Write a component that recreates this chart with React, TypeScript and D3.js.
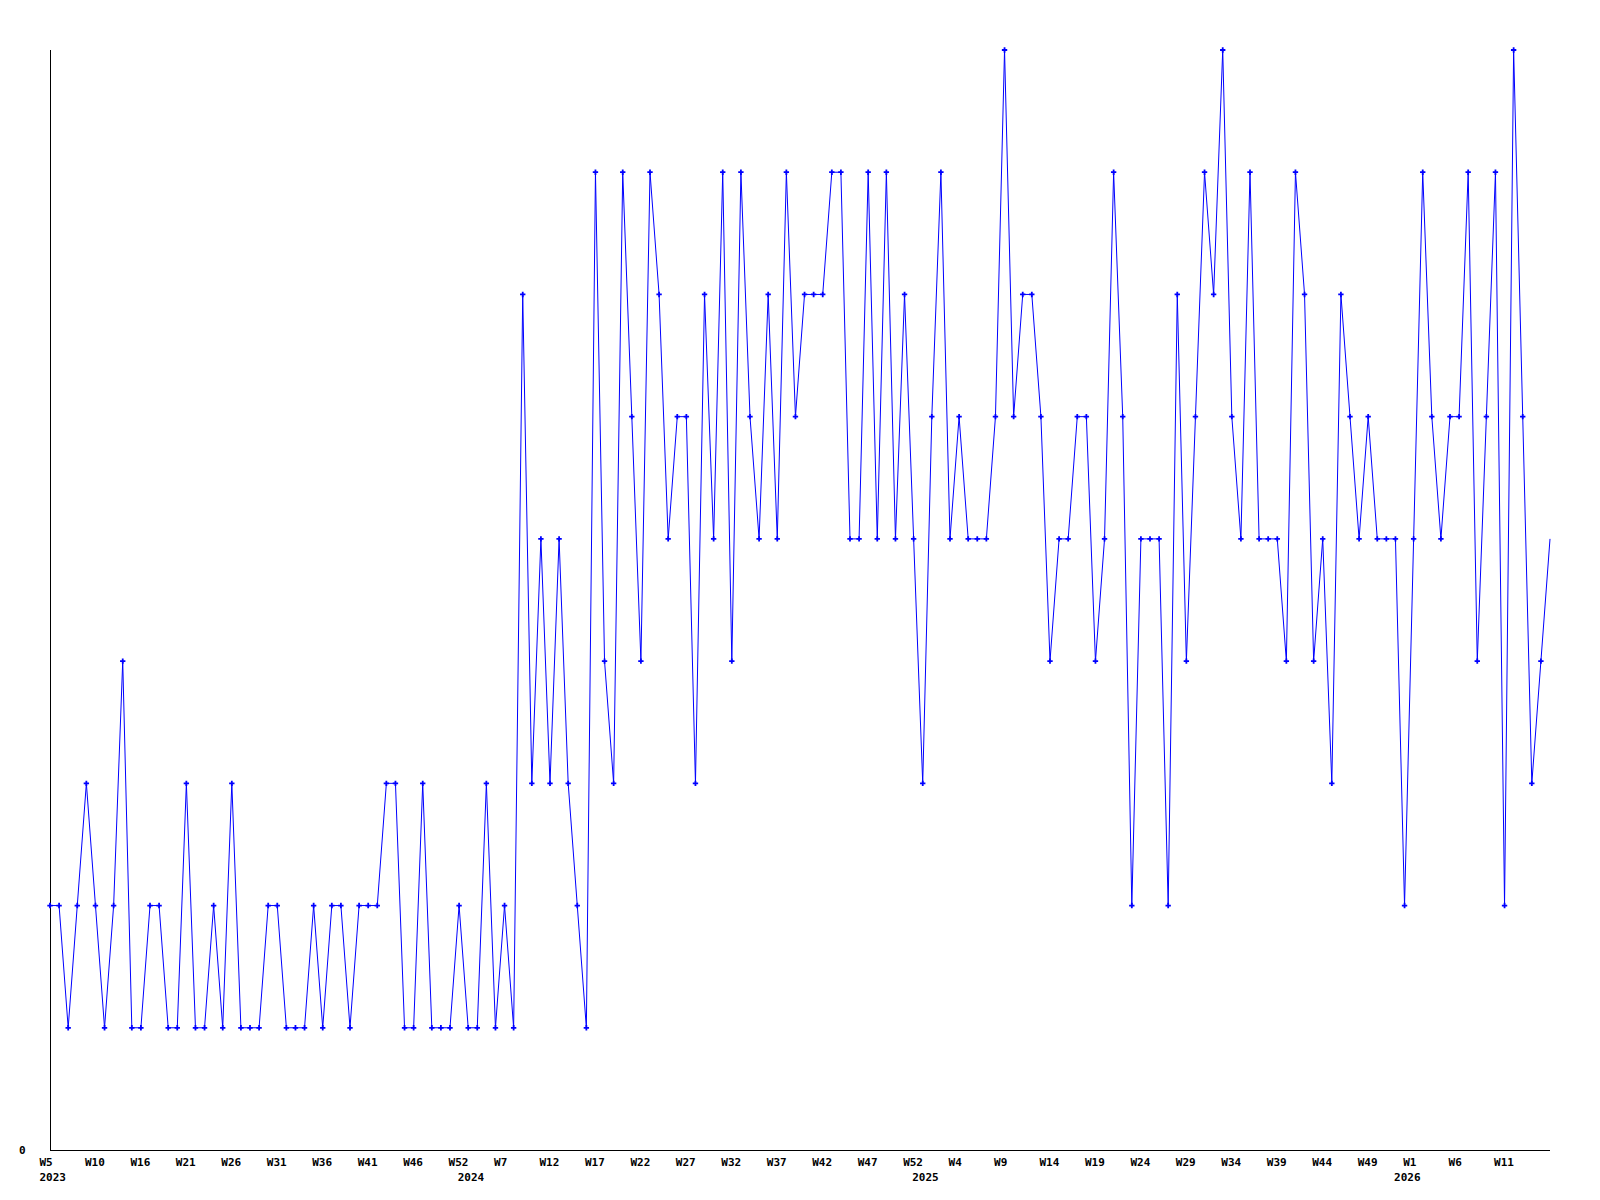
import React, { useEffect, useRef } from 'react';
import { select, scaleLinear, line, symbol, symbolCross } from 'd3';

// one value per plotted week
const values = [
  2, 2, 1, 2, 3, 2, 1, 2, 4, 1, 1, 2, 2, 1, 1, 3, 1, 1, 2, 1,
  3, 1, 1, 1, 2, 2, 1, 1, 1, 2, 1, 2, 2, 1, 2, 2, 2, 3, 3, 1,
  1, 3, 1, 1, 1, 2, 1, 1, 3, 1, 2, 1, 7, 3, 5, 3, 5, 3, 2, 1,
  8, 4, 3, 8, 6, 4, 8, 7, 5, 6, 6, 3, 7, 5, 8, 4, 8, 6, 5, 7,
  5, 8, 6, 7, 7, 7, 8, 8, 5, 5, 8, 5, 8, 5, 7, 5, 3, 6, 8, 5,
  6, 5, 5, 5, 6, 9, 6, 7, 7, 6, 4, 5, 5, 6, 6, 4, 5, 8, 6, 2,
  5, 5, 5, 2, 7, 4, 6, 8, 7, 9, 6, 5, 8, 5, 5, 5, 4, 8, 7, 4,
  5, 3, 7, 6, 5, 6, 5, 5, 5, 2, 5, 8, 6, 5, 6, 6, 8, 4, 6, 8,
  2, 9, 6, 3, 4, 5,
];

// a week label sits under every 5th point
const weekLabels = [
  'W5', 'W10', 'W16', 'W21', 'W26', 'W31', 'W36', 'W41', 'W46', 'W52', 'W7',
  'W12', 'W17', 'W22', 'W27', 'W32', 'W37', 'W42', 'W47', 'W52', 'W4', 'W9',
  'W14', 'W19', 'W24', 'W29', 'W34', 'W39', 'W44', 'W49', 'W1', 'W6', 'W11',
];
const weekStep = 5;

const years = ['2023', '2024', '2025', '2026'];
const yearStarts = [0, 46, 96, 149];

const yMax = 9;

const App = () => {
  const svgRef = useRef(null);

  useEffect(() => {
    const svg = select(svgRef.current);
    svg.selectAll('*').remove();

    const xScale = scaleLinear().domain([0, values.length - 1]).range([50, 1550]);
    const yScale = scaleLinear().domain([0, yMax]).range([1150, 50]);

    const font = { family: 'DejaVu Sans Mono', size: 11 };

    // axes
    svg.append('line')
      .attr('x1', xScale(0)).attr('x2', xScale(0))
      .attr('y1', yScale(yMax)).attr('y2', yScale(0))
      .attr('stroke', '#000').attr('shape-rendering', 'crispEdges');
    svg.append('line')
      .attr('x1', xScale(0)).attr('x2', xScale(values.length - 1))
      .attr('y1', yScale(0)).attr('y2', yScale(0))
      .attr('stroke', '#000').attr('shape-rendering', 'crispEdges');

    svg.append('text')
      .attr('x', xScale(0) - 24.5)
      .attr('y', yScale(0) + 3.5)
      .attr('text-anchor', 'end')
      .attr('font-family', font.family)
      .attr('font-size', font.size)
      .attr('font-weight', 'bold')
      .text('0');

    svg.selectAll('.week')
      .data(weekLabels)
      .join('text')
      .attr('class', 'week')
      .attr('x', (d, i) => xScale(i * weekStep) - 10.5)
      .attr('y', yScale(0) + 16)
      .attr('font-family', font.family)
      .attr('font-size', font.size)
      .attr('font-weight', 'bold')
      .text((d) => d);

    svg.selectAll('.year')
      .data(years)
      .join('text')
      .attr('class', 'year')
      .attr('x', (d, i) => xScale(yearStarts[i]) - 10.5)
      .attr('y', yScale(0) + 31)
      .attr('font-family', font.family)
      .attr('font-size', font.size)
      .attr('font-weight', 'bold')
      .text((d) => d);

    const path = line()
      .x((d, i) => xScale(i))
      .y((d) => yScale(d));

    svg.append('path')
      .datum(values)
      .attr('d', path)
      .attr('fill', 'none')
      .attr('stroke', '#0000ff')
      .attr('stroke-width', 1);

    // the newest week has no marker in the reference
    const marker = symbol().type(symbolCross).size(16);
    svg.selectAll('.pt')
      .data(values.slice(0, -1))
      .join('path')
      .attr('class', 'pt')
      .attr('d', marker)
      .attr('transform', (d, i) => `translate(${xScale(i)},${yScale(d)})`)
      .attr('fill', '#0000ff');
  }, []);

  return (
    <svg
      ref={svgRef}
      width={1600}
      height={1200}
      style={{ position: 'absolute', left: 0, top: 0, background: '#fff' }}
    />
  );
};

export default App;
